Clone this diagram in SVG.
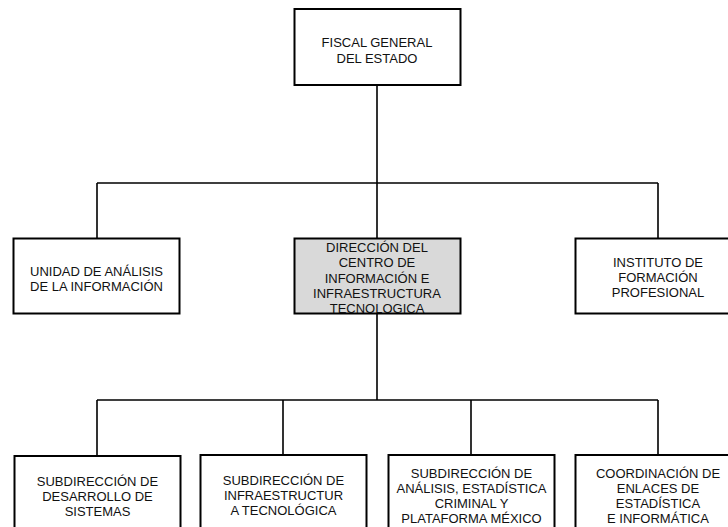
<svg xmlns="http://www.w3.org/2000/svg" width="728" height="527" viewBox="0 0 728 527">
<style>
.box{fill:#fff;stroke:#000;stroke-width:2}
.hl{fill:#d9d9d9}
.ln{stroke:#000;stroke-width:1.6;fill:none}
text{font-family:"Liberation Sans",Arial,sans-serif;font-size:13px;fill:#111;text-anchor:middle}
</style>
<rect width="728" height="527" fill="#fff"/>
<g id="connectors">
<path class="ln" d="M377 85V183M97 183H658M97 183V238M377 183V238M658 183V238M377 314V400M97 400H658M97 400V455M283 400V455M471 400V455M658 400V455"/>
</g>
<g id="fiscal">
<rect class="box" x="294.5" y="9" width="166" height="76"/>
<text x="377" y="47.3">FISCAL GENERAL</text>
<text x="377" y="62.7">DEL ESTADO</text>
</g>
<g id="unidad">
<rect class="box" x="13.5" y="238.5" width="166" height="75"/>
<text x="96.5" y="276">UNIDAD DE ANÁLISIS</text>
<text x="96.5" y="291">DE LA INFORMACIÓN</text>
</g>
<g id="direccion">
<rect class="box hl" x="294.5" y="238.5" width="166" height="75"/>
<text x="377" y="252">DIRECCIÓN DEL</text>
<text x="377" y="267.3">CENTRO DE</text>
<text x="377" y="282.6">INFORMACIÓN E</text>
<text x="377" y="297.6">INFRAESTRUCTURA</text>
<text x="377" y="312.7">TECNOLOGICA</text>
</g>
<g id="instituto">
<rect class="box" x="575.5" y="238.5" width="166" height="75"/>
<text x="658" y="267.3">INSTITUTO DE</text>
<text x="658" y="282.3">FORMACIÓN</text>
<text x="658" y="297.3">PROFESIONAL</text>
</g>
<g id="sub-desarrollo">
<rect class="box" x="14.5" y="456" width="166" height="90"/>
<text x="97.5" y="486">SUBDIRECCIÓN DE</text>
<text x="97.5" y="501">DESARROLLO DE</text>
<text x="97.5" y="516">SISTEMAS</text>
</g>
<g id="sub-infra">
<rect class="box" x="200.5" y="455" width="166" height="90"/>
<text x="283.5" y="484.5">SUBDIRECCIÓN DE</text>
<text x="283.5" y="500">INFRAESTRUCTUR</text>
<text x="283.5" y="515">A TECNOLÓGICA</text>
</g>
<g id="sub-analisis">
<rect class="box" x="388.5" y="455" width="166" height="90"/>
<text x="471.5" y="477.7">SUBDIRECCIÓN DE</text>
<text x="471.5" y="493">ANÁLISIS, ESTADÍSTICA</text>
<text x="471.5" y="508">CRIMINAL Y</text>
<text x="471.5" y="523">PLATAFORMA MÉXICO</text>
</g>
<g id="coordinacion">
<rect class="box" x="575.5" y="455" width="166" height="90"/>
<text x="658" y="477.7">COORDINACIÓN DE</text>
<text x="658" y="493">ENLACES DE</text>
<text x="658" y="508">ESTADÍSTICA</text>
<text x="658" y="523">E INFORMÁTICA</text>
</g>
</svg>
